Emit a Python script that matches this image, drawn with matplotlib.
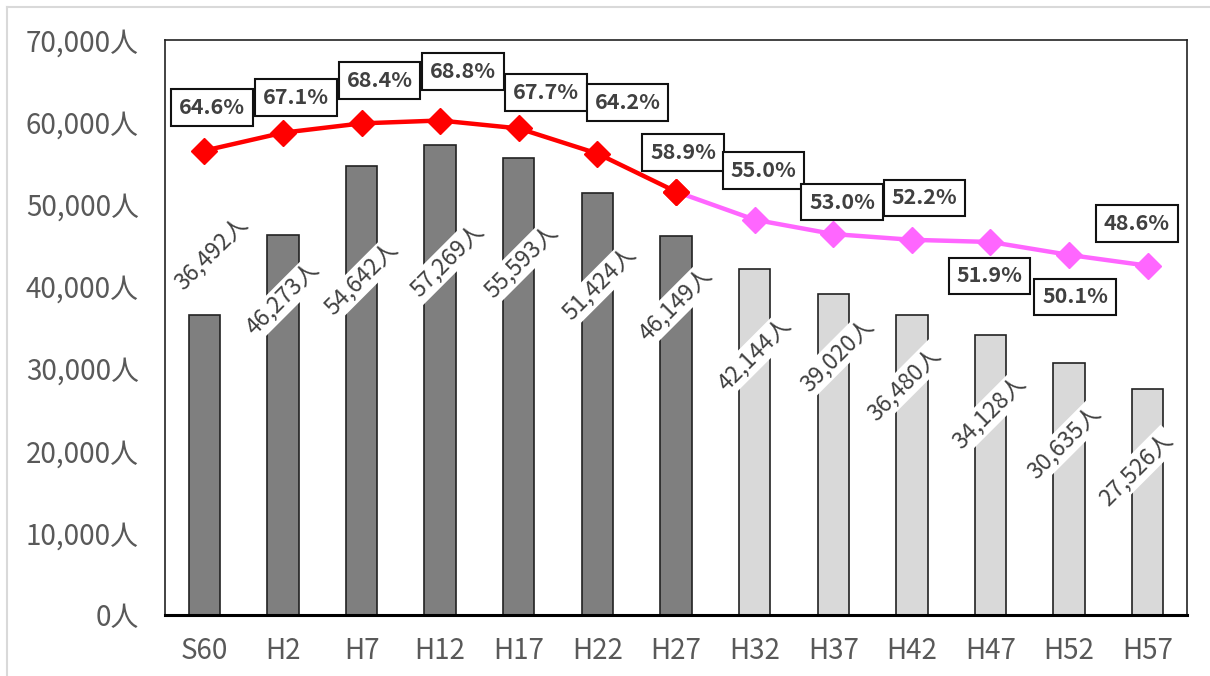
import matplotlib
matplotlib.use("Agg")
import matplotlib.pyplot as plt
from matplotlib.lines import Line2D

plt.rcParams['font.family'] = ['Noto Sans CJK JP', 'DejaVu Sans']

# --- data ---------------------------------------------------------------
years = ["S60", "H2", "H7", "H12", "H17", "H22", "H27",
         "H32", "H37", "H42", "H47", "H52", "H57"]
population = [36492, 46273, 54642, 57269, 55593, 51424, 46149,
              42144, 39020, 36480, 34128, 30635, 27526]
ratio_pct = [64.6, 67.1, 68.4, 68.8, 67.7, 64.2, 58.9,
             55.0, 53.0, 52.2, 51.9, 50.1, 48.6]
n_actual = 7  # first seven periods are actual values, the rest are projections
y_ticks = [0, 10000, 20000, 30000, 40000, 50000, 60000, 70000]

# --- layout / styling ---------------------------------------------------
bar_label_y = [43978, 38480, 40923, 43122, 43000, 40313, 37870,
               31762, 31640, 28097, 24676, 21011, 17713]
bar_label_dx = [0.09, 0.0, 0.0, 0.09, 0.03, 0.03, 0.0,
                0.0, 0.05, -0.1, -0.01, -0.06, -0.15]
pct_label_offsets = [(8, 43), (13, 35), (18, 43), (23, 49), (27, 36), (30, 51),
                     (7, 39), (9, 49), (9, 32), (13, 42), (-1, -34), (6, -42),
                     (-11, 42)]

dark_bar = "#7f7f7f"
light_bar = "#d9d9d9"
red_line = "#ff0000"
pink_line = "#ff66ff"
tick_color = "#595959"
label_color = "#404040"

fig = plt.figure(figsize=(12.1, 6.76), dpi=100)
ax = fig.add_axes([165 / 1210, 1 - 615 / 676, (1187 - 165) / 1210, (615 - 40) / 676])

x = list(range(len(years)))
colors = [dark_bar if i < n_actual else light_bar for i in x]
ax.bar(x, population, width=0.4, color=colors, edgecolor="#222222", linewidth=1.2, zorder=2)

ax.set_xlim(-0.5, len(years) - 0.5)
ax.set_ylim(0, 70000)
ax.set_yticks(y_ticks)
ax.set_yticklabels([f"{v:,}人" for v in y_ticks])
ax.set_xticks(x)
ax.set_xticklabels(years)
ax.tick_params(axis="y", length=0, pad=19, labelsize=20, labelcolor=tick_color)
ax.tick_params(axis="x", length=0, pad=15, labelsize=20, labelcolor=tick_color)

for side in ["left", "top", "right"]:
    ax.spines[side].set_linewidth(1.2)
    ax.spines[side].set_color("#222222")
ax.spines["bottom"].set_linewidth(2.2)
ax.spines["bottom"].set_color("#000000")

# rotated value labels on the bars
for i, v in enumerate(population):
    ax.text(i + bar_label_dx[i], bar_label_y[i], f"{v:,}人", rotation=45,
            ha="center", va="center", fontsize=16.5, color=label_color,
            rotation_mode="anchor", zorder=5,
            bbox=dict(boxstyle="square,pad=0.12", facecolor="white", edgecolor="none"))

# ratio line on a hidden secondary scale (0-80%)
ax2 = ax.twinx()
ax2.set_ylim(0, 80)
ax2.set_yticks([])
for side in ax2.spines.values():
    side.set_visible(False)

ax2.plot(x[:n_actual], ratio_pct[:n_actual], color=red_line, linewidth=3.2,
         marker="D", markersize=13, zorder=3)
ax2.plot(x[n_actual - 1:], ratio_pct[n_actual - 1:], color=pink_line, linewidth=3.2,
         zorder=2)
ax2.plot(x[n_actual:], ratio_pct[n_actual:], color=pink_line, linestyle="none",
         marker="D", markersize=13, zorder=3)
ax2.plot(x[n_actual - 1], ratio_pct[n_actual - 1], color=red_line, marker="D",
         markersize=13, linestyle="none", zorder=4)

for i, p in enumerate(ratio_pct):
    dx, dy = pct_label_offsets[i]
    ax2.annotate(f"{p:.1f}%", xy=(i, p), xytext=(dx, dy), textcoords="offset pixels",
                 ha="center", va="center", fontsize=15.5, fontweight="bold",
                 color=label_color, zorder=6,
                 bbox=dict(boxstyle="square,pad=0.36", facecolor="white",
                           edgecolor="#111111", linewidth=1.5))

# light frame around the chart area
fig.add_artist(Line2D([7 / 1210, 7 / 1210], [0, 1 - 7 / 676], color="#d9d9d9", linewidth=1.5))
fig.add_artist(Line2D([7 / 1210, 1], [1 - 7 / 676, 1 - 7 / 676], color="#d9d9d9", linewidth=1.5))

fig.savefig("out.png", dpi=100)
